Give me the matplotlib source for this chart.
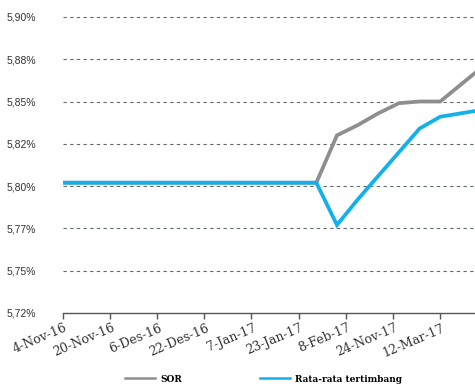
import matplotlib
matplotlib.use('Agg')
import matplotlib.dates as mdates
import matplotlib.pyplot as plt
import matplotlib.transforms as mtransforms
import pandas as pd

# weekly readings, first one on the left edge of the axis
dates = pd.to_datetime(
    ['2016-11-04', '2016-11-06', '2016-11-13', '2016-11-20', '2016-11-27',
     '2016-12-04', '2016-12-11', '2016-12-18', '2016-12-25', '2017-01-01',
     '2017-01-08', '2017-01-15', '2017-01-22', '2017-01-29', '2017-02-05',
     '2017-02-12', '2017-02-19', '2017-02-26', '2017-03-05', '2017-03-12',
     '2017-03-19', '2017-03-26'])
sor = [5.802] * 14 + [5.830, 5.836, 5.843, 5.849, 5.850, 5.850, 5.860, 5.870]
rata = [5.802] * 14 + [5.777, 5.792, 5.806, 5.820, 5.834, 5.841, 5.843, 5.845]

x_ticks = pd.to_datetime(
    ['2016-11-04', '2016-11-20', '2016-12-06', '2016-12-22', '2017-01-07',
     '2017-01-23', '2017-02-08', '2017-02-24', '2017-03-12'])
x_labels = ['4-Nov-16', '20-Nov-16', '6-Des-16', '22-Des-16', '7-Jan-17',
            '23-Jan-17', '8-Feb-17', '24-Nov-17', '12-Mar-17']
y_ticks = [5.725, 5.75, 5.775, 5.80, 5.825, 5.85, 5.875, 5.90]
y_labels = ['5,72%', '5,75%', '5,77%', '5,80%', '5,82%', '5,85%', '5,88%', '5,90%']

grey = '#8e8e8e'
blue = '#12b0ec'

fig = plt.figure(figsize=(4.75, 3.84), dpi=100)
ax = fig.add_axes([0.132, 0.185, 0.868, 0.815])

ax.plot(dates, sor, color=grey, lw=2.7, solid_joinstyle='miter', zorder=3)
ax.plot(dates, rata, color=blue, lw=2.7, solid_joinstyle='miter', zorder=4)

ax.set_ylim(5.725, 5.91)
ax.set_xlim(mdates.date2num(pd.Timestamp('2016-11-04')),
            mdates.date2num(pd.Timestamp('2016-11-04')) + 139.8)

ax.set_yticks(y_ticks)
ax.set_yticklabels(y_labels,
                   family=['Liberation Sans Narrow', 'DejaVu Sans Condensed',
                           'Liberation Sans', 'DejaVu Sans'],
                   fontsize=7.5, color='#333333')
ax.tick_params(axis='y', length=0, pad=19)
for yv in y_ticks[1:]:
    ax.axhline(yv, color='#5f6b6b', lw=0.8, ls=(0, (3, 3)), zorder=1)

ax.set_xticks(mdates.date2num(x_ticks))
ax.set_xticklabels(x_labels, rotation=23, ha='right', va='center',
                   rotation_mode='anchor', family='DejaVu Serif',
                   fontsize=9, color='#333333')
ax.tick_params(axis='x', direction='out', length=4.5, width=1, color='#555555', pad=6)
offset = mtransforms.ScaledTranslation(4 / 100, 0, fig.dpi_scale_trans)
for lbl in ax.get_xticklabels():
    lbl.set_transform(lbl.get_transform() + offset)

for side in ['left', 'right', 'top']:
    ax.spines[side].set_visible(False)
ax.spines['bottom'].set_color('#555555')
ax.spines['bottom'].set_linewidth(1)

h1, = ax.plot([], [], color=grey, lw=1.8)
h2, = ax.plot([], [], color=blue, lw=1.8)
fig.legend([h1, h2], ['SOR', 'Rata-rata tertimbang'], ncol=2, loc='center',
           bbox_to_anchor=(0.555, 0.013), frameon=False, handlelength=3.3,
           columnspacing=8.6, handletextpad=0.6,
           prop={'family': 'DejaVu Serif', 'weight': 'bold', 'size': 6.5})

fig.savefig('out.png', dpi=100)
